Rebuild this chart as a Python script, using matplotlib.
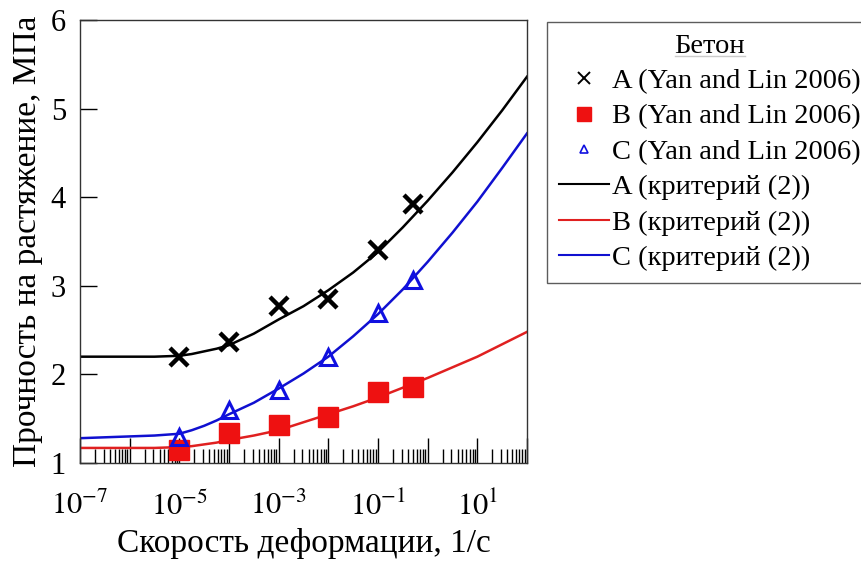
import numpy as np
import matplotlib
matplotlib.use("Agg")
import matplotlib.pyplot as plt
from matplotlib.ticker import LogLocator, FuncFormatter, NullFormatter, FixedLocator
from matplotlib.lines import Line2D

plt.rcParams['font.family'] = ['Liberation Serif', 'DejaVu Serif']
plt.rcParams['mathtext.fontset'] = 'stix'

# experimental strain rates (1/s)
rates = [1e-5, 1e-4, 1e-3, 1e-2, 1e-1, 0.5]
A_exp = [2.20, 2.37, 2.77, 2.85, 3.40, 3.92]
B_exp = [1.15, 1.34, 1.43, 1.52, 1.80, 1.86]
C_exp = [1.29, 1.60, 1.82, 2.20, 2.69, 3.07]

# criterion (2) curves (log10 of rate)
curve_log = [-7, -6, -5.5, -5, -4.75, -4.5, -4.25, -4, -3.5, -3, -2.5, -2, -1.5, -1, -0.5, 0, 0.5, 1, 1.5, 2]
A_model = [2.20, 2.20, 2.20, 2.21, 2.23, 2.26, 2.29, 2.33, 2.46, 2.62, 2.77, 2.95, 3.15, 3.38, 3.66, 3.96, 4.28, 4.62, 4.98, 5.36]
B_model = [1.17, 1.17, 1.17, 1.18, 1.19, 1.21, 1.23, 1.26, 1.31, 1.37, 1.46, 1.55, 1.64, 1.74, 1.85, 1.96, 2.08, 2.20, 2.34, 2.48]
C_model = [1.28, 1.30, 1.31, 1.33, 1.37, 1.42, 1.48, 1.55, 1.68, 1.84, 2.01, 2.20, 2.43, 2.68, 2.96, 3.27, 3.60, 3.95, 4.33, 4.72]

xlabel = "Скорость деформации, 1/с"
ylabel = "Прочность на растяжение, МПа"
legend_title = "Бетон"
labels = ["A (Yan and Lin 2006)", "B (Yan and Lin 2006)", "C (Yan and Lin 2006)",
          "A (критерий (2))", "B (критерий (2))", "C (критерий (2))"]

fig = plt.figure(figsize=(8.61, 5.61), dpi=100)
ax = fig.add_axes([80/861, 1-463/561, 447/861, 443/561])

xc = 10.0 ** np.array(curve_log)
ax.plot(xc, A_model, color='black', lw=1.8, zorder=2)
ax.plot(xc, B_model, color='#e02020', lw=1.8, zorder=2)
ax.plot(xc, C_model, color='#1010d0', lw=1.8, zorder=2)

ax.plot(rates, A_exp, ls='none', marker='x', ms=13, mew=3.2, color='black', zorder=3)
ax.plot(rates, B_exp, ls='none', marker='s', ms=14, color='#ee1111', mec='#ee1111', zorder=3)
ax.plot(rates, C_exp, ls='none', marker='^', ms=11, mfc='none', mec='#1010e0', mew=2.2, zorder=3)

ax.set_xscale('log')
ax.set_xlim(1e-7, 1e2)
ax.set_ylim(1, 6)

ax.xaxis.set_major_locator(LogLocator(base=10, numticks=20))
ax.xaxis.set_minor_locator(LogLocator(base=10, subs=np.arange(2, 10), numticks=20))
def fmt(v, pos):
    e = int(round(np.log10(v)))
    if e % 2 != 0:
        return r'$10^{%d}$' % e
    return ''
ax.xaxis.set_major_formatter(FuncFormatter(fmt))
ax.xaxis.set_minor_formatter(NullFormatter())
ax.yaxis.set_major_locator(FixedLocator([1, 2, 3, 4, 5, 6]))

ax.tick_params(axis='x', which='major', direction='in', length=18, width=1, top=False, pad=21, labelsize=22)
ax.tick_params(axis='x', which='minor', direction='in', length=10, width=1, top=False)
ax.tick_params(axis='y', which='major', direction='in', length=12, width=1, right=False, pad=10, labelsize=22)
for s in ax.spines.values():
    s.set_linewidth(1.0)
    s.set_color('#333333')

ax.set_xlabel(xlabel, fontsize=24, labelpad=4)
ax.set_ylabel(ylabel, fontsize=24, labelpad=6)

handles = [
    Line2D([], [], ls='none', marker='x', ms=9, mew=1.4, color='black'),
    Line2D([], [], ls='none', marker='s', ms=10, color='#ee1111'),
    Line2D([], [], ls='none', marker='^', ms=6, mfc='none', mec='#1010e0', mew=1.2),
    Line2D([], [], color='black', lw=1.5),
    Line2D([], [], color='#e02020', lw=1.5),
    Line2D([], [], color='#1010d0', lw=1.5),
]
leg = fig.legend(handles, labels, loc='upper left', bbox_to_anchor=(547/861, 1-22/561),
                 bbox_transform=fig.transFigure, fontsize=20.5, title=legend_title,
                 title_fontsize=20.5, frameon=True, fancybox=False, edgecolor='#333333',
                 handlelength=1.75, handletextpad=0.12, borderpad=0.42, labelspacing=0.33,
                 borderaxespad=0)
leg.get_frame().set_linewidth(1.0)

fig.canvas.draw()
tt = leg.get_title()
bb = tt.get_window_extent()
inv = fig.transFigure.inverted()
(x0, y0), (x1, y1) = inv.transform([[bb.x0, bb.y0], [bb.x1, bb.y0]])
fig.add_artist(Line2D([x0, x1], [y0 + 3/561, y0 + 3/561], color='black', lw=1, transform=fig.transFigure))

fig.savefig('out.png', dpi=100)
